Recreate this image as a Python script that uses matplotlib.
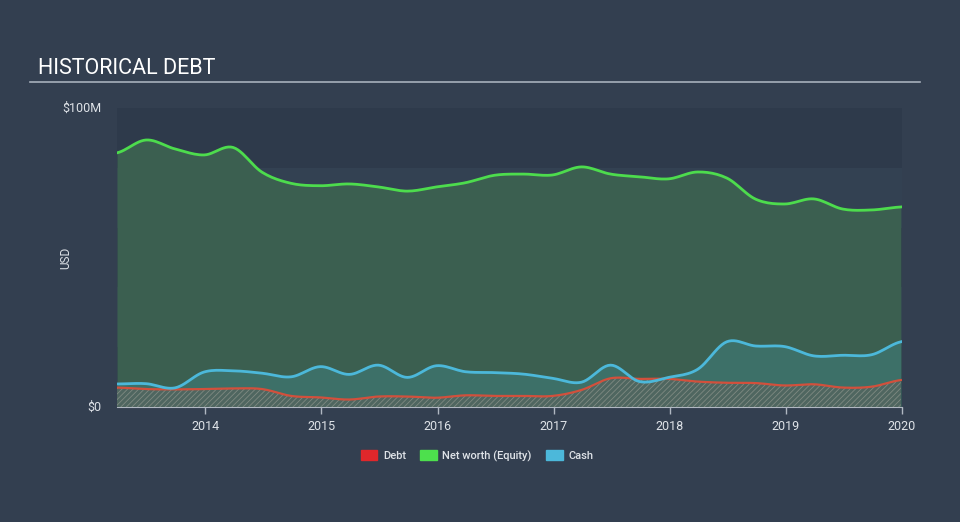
import numpy as np
import matplotlib
matplotlib.use("Agg")
import matplotlib.pyplot as plt
from matplotlib.patches import Patch

# quarterly dates (fractional years)
dates = [2013.24 + 0.25 * i for i in range(28)]
equity = [85.0, 89.3, 86.3, 84.3, 86.8, 78.5, 74.8, 74.0, 74.6, 73.6, 72.2, 73.6, 75.0, 77.5,
          77.9, 77.6, 80.3, 77.9, 77.0, 76.3, 78.6, 76.6, 69.5, 67.9, 69.6, 66.2, 65.9, 66.9]
cash = [7.7, 7.8, 6.4, 11.7, 12.1, 11.3, 10.1, 13.5, 10.9, 14.0, 9.9, 13.8, 11.8, 11.5,
        11.0, 9.6, 8.3, 14.0, 8.5, 9.9, 12.6, 21.8, 20.4, 20.2, 17.1, 17.3, 17.5, 21.8]
debt = [6.5, 6.0, 5.9, 6.0, 6.2, 6.0, 3.7, 3.2, 2.5, 3.5, 3.5, 3.1, 3.9, 3.7,
        3.7, 3.7, 5.7, 9.6, 9.4, 9.4, 8.5, 8.1, 8.0, 7.2, 7.6, 6.5, 6.8, 9.0]
xticks = [2014, 2015, 2016, 2017, 2018, 2019, 2020]


def smooth(x, y, n=12):
    """Catmull-Rom rendering of the polyline through the data points."""
    x = np.asarray(x, float); y = np.asarray(y, float)
    px = np.concatenate([[2 * x[0] - x[1]], x, [2 * x[-1] - x[-2]]])
    py = np.concatenate([[y[0]], y, [y[-1]]])
    xs, ys = [], []
    for i in range(1, len(px) - 2):
        t = np.linspace(0, 1, n, endpoint=False)
        for arr, out in ((px, xs), (py, ys)):
            p0, p1, p2, p3 = arr[i - 1], arr[i], arr[i + 1], arr[i + 2]
            out.extend(0.5 * ((2 * p1) + (-p0 + p2) * t + (2 * p0 - 5 * p1 + 4 * p2 - p3) * t ** 2
                              + (-p0 + 3 * p1 - 3 * p2 + p3) * t ** 3))
    xs.append(x[-1]); ys.append(y[-1])
    return np.array(xs), np.array(ys)


BG = "#333f50"
plt.rcParams["hatch.linewidth"] = 0.6
fig = plt.figure(figsize=(9.6, 5.22), dpi=100, facecolor=BG)
ax = fig.add_axes([117 / 960, 115 / 522, 785 / 960, 299 / 522])
ax.set_facecolor("#2f3b4c")

# background bands
for i, lo in enumerate(range(0, 100, 20)):
    ax.axhspan(lo, lo + 20, color="#2e3a4b" if i % 2 == 0 else "#334152", lw=0, zorder=0)

ex, ey = smooth(dates, equity)
cx, cy = smooth(dates, cash)
dx, dy = smooth(dates, debt)

ax.fill_between(ex, 0, ey, color="#3b5f50", lw=0, zorder=1)
ax.plot(ex, ey, color="#4ddc4d", lw=2, zorder=5)
ax.fill_between(cx, 0, cy, color="#3d7068", lw=0, zorder=2)
ax.plot(cx, cy, color="#4cb8da", lw=2, zorder=6)
ax.fill_between(dx, 0, dy, facecolor="#4f6660", edgecolor="#7f8a82", hatch="//////", lw=0, zorder=3)
ax.plot(dx, dy, color="#d2503c", lw=1.6, zorder=4)

ax.set_xlim(dates[0], 2020.0)
ax.set_ylim(0, 100)
ax.set_yticks([])
ax.set_xticks(xticks)
ax.set_xticklabels([str(t) for t in xticks], color="#dfe3e8", fontsize=9, family="Roboto")
ax.tick_params(axis="x", colors="#b0b8c2", length=5, width=1, pad=4, labelcolor="#dfe3e8")
for s in ["top", "right", "left"]:
    ax.spines[s].set_visible(False)
ax.spines["bottom"].set_color("#b0b8c2")

fig.text(38 / 960, 1 - 69 / 522, "HISTORICAL DEBT", color="#ffffff", fontsize=15.5,
         family="Roboto", va="center", ha="left")
fig.add_artist(plt.Line2D([30 / 960, 920 / 960], [1 - 82 / 522, 1 - 82 / 522], color="#a7b0bb", lw=1.2))
fig.text(101 / 960, 1 - 108 / 522, "$100M", color="#dfe3e8", fontsize=9, family="Roboto",
         ha="right", va="center")
fig.text(101 / 960, 1 - 407 / 522, "$0", color="#dfe3e8", fontsize=9, family="Roboto",
         ha="right", va="center")
fig.text(66 / 960, 1 - 258 / 522, "USD", color="#dfe3e8", fontsize=8.5, family="Roboto",
         rotation=90, ha="center", va="center")

handles = [Patch(color="#e0272b", label="Debt"), Patch(color="#4de04d", label="Net worth (Equity)"),
           Patch(color="#4cb8da", label="Cash")]
leg = fig.legend(handles=handles, loc="center", bbox_to_anchor=(477 / 960, 1 - 456 / 522), ncol=3,
                 frameon=False, handlelength=1.5, handleheight=1.0, columnspacing=1.3,
                 handletextpad=0.5, prop={"family": "Roboto", "size": 8, "weight": "medium"})
for t in leg.get_texts():
    t.set_color("#dfe3e8")

fig.savefig("out.png", dpi=100, facecolor=BG)
